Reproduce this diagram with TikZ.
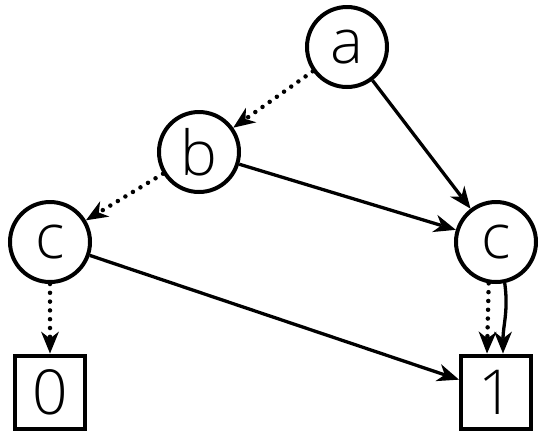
\documentclass[tikz,border=0pt]{standalone}
\usepackage{fontspec}
\setmainfont{Open Sans Light}
\usetikzlibrary{arrows.meta}
\begin{document}
\begin{tikzpicture}[x=1pt,y=-1pt,
  vnode/.style={circle,draw,line width=4pt,minimum size=80pt,inner sep=0pt,font=\fontsize{62}{62}\selectfont},
  leaf/.style={rectangle,draw,line width=4pt,minimum width=70pt,minimum height=73pt,inner sep=0pt,font=\fontsize{62}{62}\selectfont},
  tip/.tip={Stealth[length=22pt,width=18pt,inset=7pt,line width=0pt]},
  hi/.style={line width=3.3pt,-tip},
  lo/.style={line width=4.5pt,line cap=round,dash pattern=on 0pt off 8.8pt,-{Stealth[length=22pt,width=18pt,inset=7pt,line cap=butt,line width=0pt]}}]
\useasboundingbox (0,0) rectangle (550,440);
\node[vnode] (a) at (347,47) {a};
\node[vnode] (b) at (199,152) {b};
\node[vnode] (c1) at (50,242) {c};
\node[vnode] (c2) at (496,242) {c};
\node[leaf] (z) at (50,392) {0};
\node[leaf] (o) at (496,392) {1};
\draw[lo] (a) -- (b);
\draw[hi] (a) -- (c2);
\draw[lo] (b) -- (c1);
\draw[hi] (b) -- (c2);
\draw[lo] (c1) -- (z);
\draw[hi] (c1) -- (o);
\draw[lo] (c2.-100) -- ([xshift=-9pt]o.north);
\draw[hi] (c2.-78) to[out=-82,in=90] ([xshift=7pt]o.north);
\end{tikzpicture}
\end{document}
